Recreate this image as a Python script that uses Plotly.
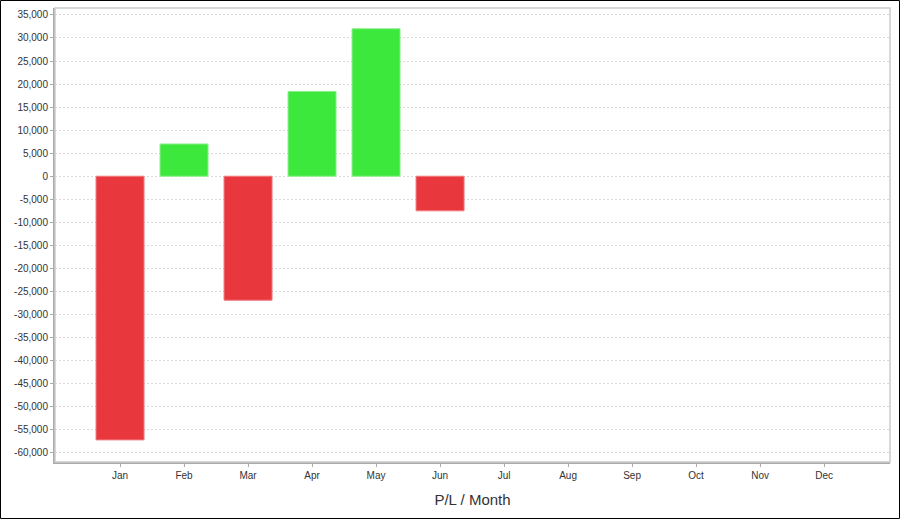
import plotly.graph_objects as go

months = ["Jan", "Feb", "Mar", "Apr", "May", "Jun", "Jul", "Aug", "Sep", "Oct", "Nov", "Dec"]
pl_values = [-57200, 7000, -26900, 18400, 32000, -7500, None, None, None, None, None, None]
y_tick_values = list(range(-60000, 35001, 5000))
y_tick_labels = [f"{v:,}" for v in y_tick_values]

RED = "#E8383D"
GREEN = "#3DE83D"
bar_colors = [(RED if (v is not None and v < 0) else GREEN) for v in pl_values]
line_colors = ["#F07A7E" if (v is not None and v < 0) else "#8AF08A" for v in pl_values]

W, H = 900, 519
ml, mr, mt, mb = 55, 10, 8, 57
pw, ph = W - ml - mr, H - mt - mb

fig = go.Figure()
fig.add_trace(go.Bar(
    x=list(range(len(months))), y=pl_values,
    marker=dict(color=bar_colors, line=dict(color=line_colors, width=1)),
    width=0.75, hoverinfo="skip", showlegend=False,
))

fig.update_layout(
    width=W, height=H,
    margin=dict(l=ml, r=mr, t=mt, b=mb, autoexpand=False),
    paper_bgcolor="white", plot_bgcolor="white",
    font=dict(family="Liberation Sans, Arial, sans-serif", size=10, color="#333333"),
    xaxis=dict(
        automargin=False,
        range=[-1.016, 12.03],
        tickvals=list(range(len(months))), ticktext=months,
        showgrid=False, zeroline=False,
        showline=True, linecolor="#aaaaaa", linewidth=2,
        ticks="outside", ticklen=3, tickcolor="#aaaaaa",
        tickfont=dict(size=10, color="#333333"),
        title=dict(text="P/L / Month", font=dict(size=15, color="#333333"), standoff=14),
    ),
    yaxis=dict(
        automargin=False,
        range=[-62000, 36500],
        tickvals=y_tick_values, ticktext=y_tick_labels,
        showgrid=True, gridcolor="#d9d9d9", griddash="2px,2px", gridwidth=1,
        zeroline=False,
        showline=True, linecolor="#aaaaaa", linewidth=2,
        ticks="outside", ticklen=3, tickcolor="#aaaaaa",
        tickfont=dict(size=10, color="#333333"),
    ),
    shapes=[
        dict(type="rect", xref="paper", yref="paper", x0=0, x1=1, y0=0, y1=1,
             line=dict(color="#cccccc", width=1.5), layer="above"),
        dict(type="rect", xref="paper", yref="paper",
             x0=-(ml - 0.5) / pw, x1=1 + (mr - 0.5) / pw,
             y0=-(mb - 0.5) / ph, y1=1 + (mt - 0.5) / ph,
             line=dict(color="black", width=1), layer="above"),
    ],
)

fig.write_html(
    "out.html",
    config={"displayModeBar": False},
    post_script="document.body.style.margin='0';document.body.style.overflow='hidden';",
)
